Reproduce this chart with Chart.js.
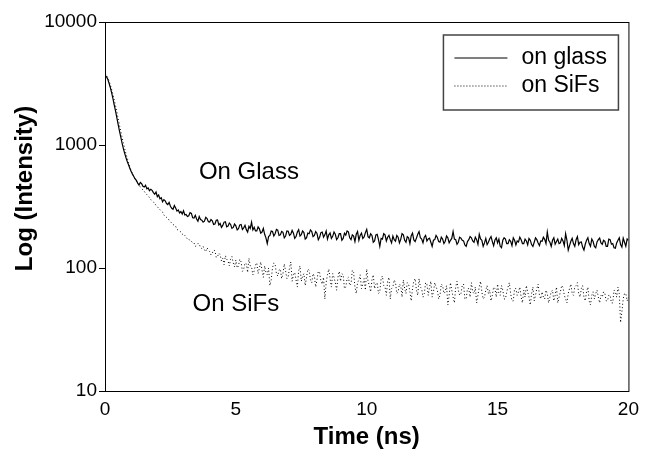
<!DOCTYPE html>
<html>
<head>
<meta charset="utf-8">
<script src="https://cdn.jsdelivr.net/npm/chart.js@4.4.0/dist/chart.umd.min.js"></script>
<style>
  html, body { margin: 0; padding: 0; background: #fff; }
</style>
</head>
<body>
<canvas id="decayChart" width="646" height="452"></canvas>
<script>
// sampling interval of the decay traces (ns)
const timeStep = 0.05;

// intensity counts, 20 samples per ns row, 0 to 20 ns
const glassCounts = [
   3700, 3600, 3450, 3200, 2950, 2680, 2400, 2130, 1900, 1680, 1480, 1310, 1170, 1040, 940, 860, 790, 735, 690, 645,
   610, 580, 555, 530, 515, 490, 472, 495, 485, 462, 455, 470, 440, 448, 425, 436, 428, 410, 398, 415,
   380, 392, 365, 372, 345, 360, 352, 334, 328, 342, 318, 306, 300, 322, 308, 290, 296, 280, 288, 275,
   292, 270, 272, 262, 266, 282, 278, 256, 255, 268, 250, 240, 262, 248, 245, 236, 240, 258, 252, 238,
   236, 248, 242, 226, 228, 244, 246, 224, 230, 214, 222, 236, 238, 216, 219, 232, 226, 210, 214, 228,
   220, 204, 209, 224, 226, 206, 212, 222, 205, 196, 218, 210, 236, 204, 214, 200, 200, 216, 208, 192,
   196, 210, 188, 176, 158, 180, 184, 200, 198, 182, 190, 206, 203, 184, 186, 198, 195, 176, 182, 200,
   199, 184, 188, 202, 192, 174, 180, 196, 205, 182, 187, 200, 194, 172, 176, 192, 190, 204, 198, 180,
   184, 198, 191, 170, 178, 194, 196, 178, 186, 200, 172, 186, 193, 174, 181, 196, 188, 170, 176, 190,
   190, 168, 174, 192, 185, 200, 197, 176, 170, 186, 182, 164, 188, 198, 168, 184, 192, 174, 179, 194,
   206, 180, 176, 190, 184, 162, 166, 186, 188, 170, 150, 174, 172, 190, 186, 166, 178, 184, 170, 160,
   182, 170, 165, 184, 178, 160, 171, 190, 186, 168, 162, 180, 176, 158, 183, 192, 169, 164, 175, 188,
   198, 176, 172, 160, 178, 184, 166, 172, 175, 162, 150, 168, 170, 184, 177, 164, 162, 178, 172, 158,
   165, 182, 176, 160, 168, 174, 198, 172, 170, 156, 162, 178, 175, 168, 166, 154, 150, 164, 170, 180,
   176, 166, 162, 178, 170, 156, 188, 172, 168, 150, 160, 174, 155, 162, 173, 180, 164, 152, 169, 176,
   160, 172, 150, 146, 168, 176, 172, 158, 158, 170, 165, 152, 176, 168, 154, 166, 163, 178, 170, 158,
   158, 172, 166, 154, 174, 168, 155, 150, 162, 176, 170, 160, 152, 166, 165, 178, 171, 158, 196, 168,
   162, 150, 168, 176, 156, 164, 172, 158, 160, 174, 166, 152, 190, 168, 140, 152, 165, 174, 158, 150,
   170, 180, 155, 162, 163, 148, 140, 156, 168, 176, 158, 150, 172, 164, 150, 146, 163, 170, 175, 160,
   156, 168, 165, 150, 150, 172, 170, 156, 158, 146, 145, 160, 168, 176, 155, 148, 175, 162, 150, 172,
   168
];

const sifsCounts = [
   3800, 3700, 3550, 3350, 3100, 2850, 2600, 2350, 2100, 1870, 1650, 1460, 1300, 1160, 1040, 940, 850, 780, 720, 665,
   620, 585, 555, 528, 505, 486, 470, 455, 445, 430, 420, 405, 395, 382, 375, 360, 350, 344, 335, 322,
   315, 306, 298, 290, 285, 270, 262, 258, 255, 244, 238, 232, 226, 222, 218, 206, 203, 200, 196, 188,
   190, 184, 178, 172, 172, 166, 165, 160, 160, 150, 152, 158, 157, 146, 144, 150, 140, 136, 146, 140,
   136, 128, 132, 140, 138, 122, 124, 132, 128, 114, 120, 106, 126, 118, 114, 104, 118, 124, 110, 102,
   116, 100, 104, 118, 112, 94, 98, 110, 108, 92, 120, 104, 102, 88, 95, 106, 110, 90, 100, 112,
   96, 84, 104, 92, 88, 100, 72, 80, 100, 110, 107, 90, 86, 96, 98, 82, 90, 108, 94, 82,
   85, 100, 112, 78, 88, 92, 80, 70, 95, 104, 78, 86, 90, 72, 84, 98, 96, 80, 76, 90,
   86, 70, 80, 94, 92, 78, 74, 84, 56, 76, 88, 98, 82, 70, 90, 84, 76, 66, 84, 94,
   78, 90, 88, 68, 70, 82, 84, 72, 74, 96, 92, 70, 62, 76, 80, 88, 68, 74, 82, 66,
   98, 78, 72, 64, 80, 88, 68, 74, 76, 62, 64, 82, 86, 72, 70, 60, 78, 84, 56, 68,
   70, 80, 76, 62, 64, 74, 72, 58, 80, 68, 62, 76, 74, 64, 54, 68, 78, 82, 66, 60,
   82, 70, 68, 58, 62, 76, 74, 60, 70, 78, 58, 64, 76, 70, 66, 56, 60, 74, 72, 62,
   64, 72, 50, 60, 76, 66, 58, 52, 70, 78, 66, 60, 62, 72, 74, 56, 56, 68, 68, 58,
   76, 64, 62, 70, 52, 60, 70, 78, 64, 56, 58, 66, 72, 62, 66, 54, 60, 70, 68, 58,
   74, 62, 60, 72, 66, 56, 56, 64, 70, 76, 62, 54, 54, 68, 68, 60, 64, 70, 58, 52,
   66, 58, 72, 64, 58, 50, 62, 70, 54, 60, 68, 74, 60, 56, 64, 58, 56, 66, 62, 52,
   58, 64, 66, 54, 60, 70, 52, 58, 64, 72, 70, 60, 56, 52, 62, 68, 74, 62, 60, 70,
   72, 76, 62, 58, 68, 72, 58, 54, 64, 70, 54, 50, 60, 64, 56, 62, 66, 58, 52, 60,
   58, 64, 62, 54, 54, 60, 60, 52, 52, 66, 64, 58, 70, 62, 36, 44, 56, 62, 62, 54,
   58
];

const seriesLabels = ['on glass', 'on SiFs'];
const xTickValues = [0, 5, 10, 15, 20];
const yTickValues = [10, 100, 1000, 10000];

const FONT = "'Liberation Sans', Arial, Helvetica, sans-serif";

function toPoints(values) {
   return values.map((v, i) => ({ x: +(i * timeStep).toFixed(2), y: v }));
}

// box around the whole plot area
const framePlugin = {
   id: 'frame',
   afterDraw(chart) {
      const { ctx, chartArea: a } = chart;
      ctx.save();
      ctx.strokeStyle = '#000';
      ctx.lineWidth = 1;
      ctx.strokeRect(a.left + 0.5, a.top + 0.5, a.right - a.left, a.bottom - a.top);
      ctx.restore();
   }
};

// boxed legend in the upper right corner of the plot
const boxLegendPlugin = {
   id: 'boxLegend',
   afterDraw(chart) {
      const { ctx, chartArea: a } = chart;
      const left = a.right - 185, top = a.top + 13, w = 175, h = 75;
      ctx.save();
      ctx.strokeStyle = '#444';
      ctx.lineWidth = 1.5;
      ctx.strokeRect(left, top, w, h);
      ctx.font = '23px ' + FONT;
      ctx.fillStyle = '#000';
      ctx.textBaseline = 'middle';
      chart.data.datasets.forEach((ds, i) => {
         const y = top + 23 + i * 28;
         ctx.beginPath();
         ctx.strokeStyle = i === 0 ? '#555' : '#000';
         ctx.lineWidth = i === 0 ? 1.6 : 1;
         ctx.setLineDash(i === 0 ? [] : [1, 2]);
         ctx.moveTo(left + 11, y);
         ctx.lineTo(left + 64, y);
         ctx.stroke();
         ctx.setLineDash([]);
         ctx.fillText(ds.label, left + 78, y);
      });
      ctx.restore();
   }
};

// curve names written next to the traces
const curveNotePlugin = {
   id: 'curveNotes',
   afterDraw(chart) {
      const { ctx, scales } = chart;
      const notes = [
         { text: 'On Glass', t: 5.5, v: 600 },
         { text: 'On SiFs', t: 5.0, v: 51 }
      ];
      ctx.save();
      ctx.font = '24px ' + FONT;
      ctx.fillStyle = '#000';
      ctx.textAlign = 'center';
      ctx.textBaseline = 'middle';
      notes.forEach(n => {
         ctx.fillText(n.text, scales.x.getPixelForValue(n.t), scales.y.getPixelForValue(n.v));
      });
      ctx.restore();
   }
};

const ctx = document.getElementById('decayChart').getContext('2d');
new Chart(ctx, {
   type: 'line',
   data: {
      datasets: [{
         label: seriesLabels[0],
         data: toPoints(glassCounts),
         borderColor: '#000',
         borderWidth: 1.2,
         pointRadius: 0,
         tension: 0,
         fill: false
      }, {
         label: seriesLabels[1],
         data: toPoints(sifsCounts),
         borderColor: '#000',
         borderWidth: 1,
         borderDash: [1, 2.4],
         pointRadius: 0,
         tension: 0,
         fill: false
      }]
   },
   options: {
      responsive: false,
      animation: false,
      layout: {
         padding: { left: 0, right: 13, top: 22, bottom: 0 }
      },
      plugins: {
         legend: { display: false },
         tooltip: { enabled: false }
      },
      scales: {
         x: {
            type: 'linear',
            min: 0,
            max: 20,
            afterBuildTicks: (scale) => { scale.ticks = xTickValues.map(v => ({ value: v })); },
            afterFit: (scale) => { scale.height = 61; },
            ticks: {
               color: '#000',
               font: { family: FONT, size: 19 },
               padding: 7
            },
            grid: { drawOnChartArea: false, drawTicks: false },
            border: { display: true, color: '#000', width: 1 },
            title: {
               display: true,
               text: 'Time (ns)',
               color: '#000',
               font: { family: FONT, size: 24, weight: 'bold' },
               padding: { top: 0, bottom: 0 }
            }
         },
         y: {
            type: 'logarithmic',
            min: 10,
            max: 10000,
            afterBuildTicks: (scale) => { scale.ticks = yTickValues.map(v => ({ value: v })); },
            afterFit: (scale) => { scale.width = 105; },
            ticks: {
               color: '#000',
               font: { family: FONT, size: 19 },
               padding: 2,
               callback: (value) => String(value)
            },
            grid: { drawOnChartArea: false, drawTicks: true, tickLength: 6, color: '#000' },
            border: { display: true, color: '#000', width: 1 },
            title: {
               display: true,
               text: '\u2003\u2002Log (Intensity)',
               color: '#000',
               font: { family: FONT, size: 24, weight: 'bold' },
               padding: { top: 11, bottom: 0 }
            }
         }
      }
   },
   plugins: [framePlugin, boxLegendPlugin, curveNotePlugin]
});
</script>
</body>
</html>
